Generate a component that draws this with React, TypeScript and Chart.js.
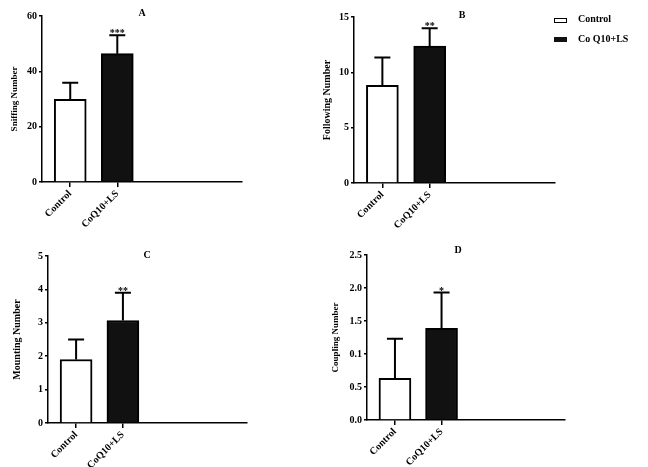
import React, { useEffect, useRef } from 'react';
import { Chart, registerables } from 'chart.js';

Chart.register(...registerables);

// ---------- data ----------
const categories = ['Control', 'CoQ10+LS'];
const legendLabels = ['Control', 'Co Q10+LS'];

const sniffingMeans = [29.9, 46.4];
const sniffingSD = [6.0, 6.6];
const sniffingStars = ['', '***'];
const sniffingTicks = ['0', '20', '40', '60'];

const followingMeans = [8.83, 12.38];
const followingSD = [2.5, 1.6];
const followingStars = ['', '**'];
const followingTicks = ['0', '5', '10', '15'];

const mountingMeans = [1.9, 3.07];
const mountingSD = [0.6, 0.83];
const mountingStars = ['', '**'];
const mountingTicks = ['0', '1', '2', '3', '4', '5'];

const couplingMeans = [0.63, 1.39];
const couplingSD = [0.6, 0.54];
const couplingStars = ['', '*'];
const couplingTicks = ['0.0', '0.5', '0.1', '1.5', '2.0', '2.5'];

// ---------- layout / style ----------
const FONT = '"Liberation Serif", "Times New Roman", serif';
const boldFont = { family: FONT, size: 10, weight: 'bold' as const };

const panels = [
  {
    letter: 'A', yTitle: 'Sniffing Number', means: sniffingMeans, sd: sniffingSD, stars: sniffingStars,
    yTicks: sniffingTicks, yMax: 60, yStep: 20, titleSize: 9,
    left: 0, top: 0, w: 300, h: 234, area: { l: 42, t: 16, r: 242, b: 182 }, titlePad: 9, letterX: 142, letterY: 13,
  },
  {
    letter: 'B', yTitle: 'Following Number', means: followingMeans, sd: followingSD, stars: followingStars,
    yTicks: followingTicks, yMax: 15, yStep: 5, titleSize: 10,
    left: 312, top: 0, w: 336, h: 235, area: { l: 42, t: 17, r: 243, b: 183 }, titlePad: 9, letterX: 150, letterY: 15,
  },
  {
    letter: 'C', yTitle: 'Mounting Number', means: mountingMeans, sd: mountingSD, stars: mountingStars,
    yTicks: mountingTicks, yMax: 5, yStep: 1, titleSize: 10,
    left: 0, top: 240, w: 300, h: 227, area: { l: 48, t: 16, r: 247, b: 183 }, titlePad: 11, letterX: 147, letterY: 15,
  },
  {
    letter: 'D', yTitle: 'Coupling Number', means: couplingMeans, sd: couplingSD, stars: couplingStars,
    yTicks: couplingTicks, yMax: 2.5, yStep: 0.5, titleSize: 9,
    left: 320, top: 240, w: 328, h: 227, area: { l: 47, t: 15, r: 245, b: 180 }, titlePad: 10, letterX: 138, letterY: 10,
  },
];

type PanelCfg = typeof panels[number];

function Panel({ p }: { p: PanelCfg }) {
  const ref = useRef<HTMLCanvasElement>(null);

  useEffect(() => {
    const decor = {
      id: 'panelDecor',
      afterDatasetsDraw(chart: any) {
        const { ctx } = chart;
        const meta = chart.getDatasetMeta(0);
        const yScale = chart.scales.y;
        ctx.save();
        ctx.strokeStyle = '#000';
        ctx.fillStyle = '#000';
        ctx.lineWidth = 2;
        meta.data.forEach((bar: any, i: number) => {
          const top = yScale.getPixelForValue(p.means[i] + p.sd[i]);
          ctx.beginPath();
          ctx.moveTo(bar.x, bar.y);
          ctx.lineTo(bar.x, top);
          ctx.moveTo(bar.x - 8, top);
          ctx.lineTo(bar.x + 8, top);
          ctx.stroke();
          if (p.stars[i]) {
            ctx.font = `bold 10px ${FONT}`;
            ctx.textAlign = 'center';
            ctx.textBaseline = 'alphabetic';
            ctx.fillText(p.stars[i], bar.x, top + 1);
          }
        });
        ctx.font = `bold 10px ${FONT}`;
        ctx.textAlign = 'center';
        ctx.textBaseline = 'middle';
        ctx.fillText(p.letter, p.letterX, p.letterY);
        ctx.restore();
      },
    };

    const chart = new Chart(ref.current as HTMLCanvasElement, {
      type: 'bar',
      data: {
        datasets: [
          {
            data: p.means.map((y, i) => ({ x: i, y })) as any,
            backgroundColor: ['#ffffff', '#111111'],
            borderColor: '#000000',
            borderWidth: 2,
            barThickness: 32,
            borderSkipped: 'bottom',
          },
        ],
      },
      options: {
        responsive: false,
        animation: false,
        events: [],
        layout: { padding: { left: 0, top: p.area.t, right: p.w - p.area.r, bottom: 0 } },
        plugins: { legend: { display: false }, tooltip: { enabled: false } },
        scales: {
          x: {
            type: 'linear',
            offset: false,
            min: -0.6,
            max: 3.65,
            afterBuildTicks: (s: any) => {
              s.ticks = categories.map((_, i) => ({ value: i }));
            },
            afterFit: (s: any) => {
              s.height = p.h - p.area.b;
            },
            ticks: {
              callback: (v: any) => categories[v as number] ?? '',
              minRotation: 45,
              maxRotation: 45,
              autoSkip: false,
              font: boldFont,
              color: '#000',
              padding: 1,
            },
            grid: { display: true, offset: false, drawOnChartArea: false, drawTicks: true, tickLength: 5, color: '#000', lineWidth: 1.5 },
            border: { display: true, color: '#000', width: 1.5 },
          },
          y: {
            min: 0,
            max: p.yMax,
            afterFit: (s: any) => {
              s.width = p.area.l;
            },
            ticks: {
              stepSize: p.yStep,
              callback: (_v: any, i: number) => p.yTicks[i],
              font: boldFont,
              color: '#000',
              padding: 2,
            },
            grid: { display: true, drawOnChartArea: false, drawTicks: true, tickLength: 3, color: '#000', lineWidth: 1.5 },
            border: { display: true, color: '#000', width: 1.5 },
            title: {
              display: true,
              text: p.yTitle,
              font: { family: FONT, size: p.titleSize, weight: 'bold' },
              color: '#000',
              padding: { top: p.titlePad, bottom: 0 },
            },
          },
        },
      } as any,
      plugins: [decor],
    });
    return () => chart.destroy();
  }, []);

  return (
    <canvas
      ref={ref}
      width={p.w}
      height={p.h}
      style={{ position: 'absolute', left: p.left, top: p.top, width: p.w, height: p.h }}
    />
  );
}

export default function App() {
  const textStyle: React.CSSProperties = {
    position: 'absolute',
    font: `bold 10px ${FONT}`,
    lineHeight: '12px',
    color: '#000',
    whiteSpace: 'nowrap',
  };
  return (
    <div style={{ position: 'absolute', left: 0, top: 0, width: 648, height: 467, overflow: 'hidden', background: '#fff' }}>
      {panels.map((p) => (
        <Panel key={p.letter} p={p} />
      ))}
      <div style={{ position: 'absolute', left: 554, top: 18, width: 13, height: 5, border: '1px solid #000', background: '#fff', boxSizing: 'border-box' }} />
      <div style={{ ...textStyle, left: 578, top: 13 }}>{legendLabels[0]}</div>
      <div style={{ position: 'absolute', left: 554, top: 37, width: 13, height: 5, background: '#111' }} />
      <div style={{ ...textStyle, left: 578, top: 33 }}>{legendLabels[1]}</div>
    </div>
  );
}
